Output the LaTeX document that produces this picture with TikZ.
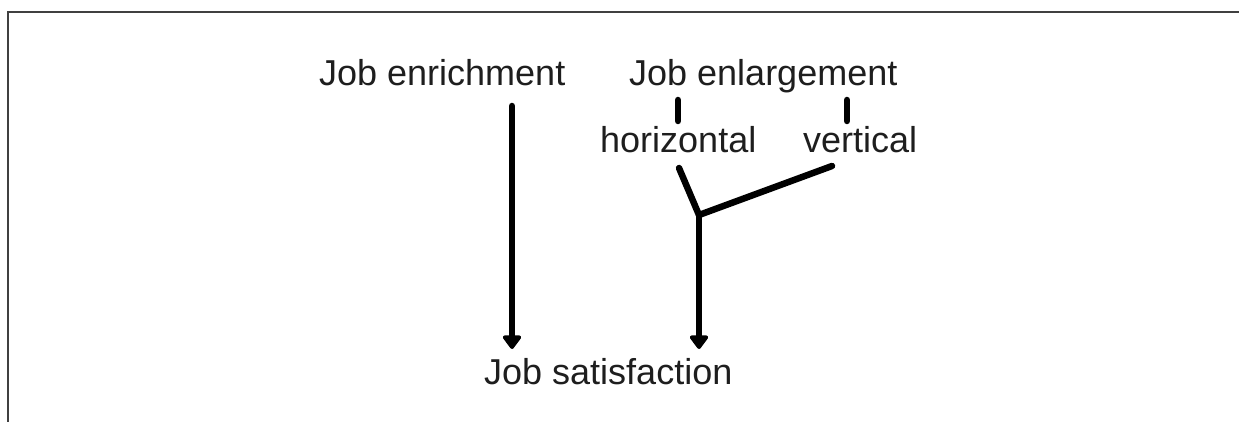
\documentclass[tikz,border=0pt]{standalone}
\usepackage{fontspec}
\setmainfont{Liberation Sans}
\usetikzlibrary{arrows.meta}
\definecolor{ink}{HTML}{1E1E1E}
\begin{document}
\begin{tikzpicture}[x=1pt,y=-1pt,
  label/.style={inner sep=0pt,anchor=base west,text=ink,
    font=\fontsize{36}{42}\selectfont},
  stroke/.style={line width=6.5pt,draw=black,line cap=round,line join=round},
  flow/.style={stroke,-{Triangle[round,width=21pt,length=15pt]}},
  frame/.style={line width=2pt,draw=ink!85}]
  \useasboundingbox (0,0) rectangle (1239,422);
  % open frame: top and left edges only
  \draw[frame] (8,422) -- (8,12) -- (1239,12);

  % labels
  \node[label] (enrich) at (319,86) {Job enrichment};
  \node[label] (enlarge) at (629,86) {Job enlargement};
  \node[label] (horiz) at (600,153) {horizontal};
  \node[label] (vert) at (803,153) {vertical};
  \node[label] (sat) at (484,384) {Job satisfaction};

  % connector end points
  \coordinate (enrichFoot) at (512,106);
  \coordinate (tickA) at (678,100);
  \coordinate (tickB) at (847,100);
  \coordinate (horizFoot) at (679,168);
  \coordinate (vertFoot) at (832,166);
  \coordinate (join) at (699,215);

  % enrichment arrow
  \draw[flow] (enrichFoot) -- (enrichFoot |- 0,349);
  % short ticks under Job enlargement
  \draw[stroke] (tickA) -- (tickA |- 0,121);
  \draw[stroke] (tickB) -- (tickB |- 0,121);
  % two branches merging into one arrow
  \draw[stroke] (horizFoot) -- (join);
  \draw[stroke] (vertFoot) -- (join);
  \draw[flow] (join) -- (join |- 0,349);
\end{tikzpicture}
\end{document}
